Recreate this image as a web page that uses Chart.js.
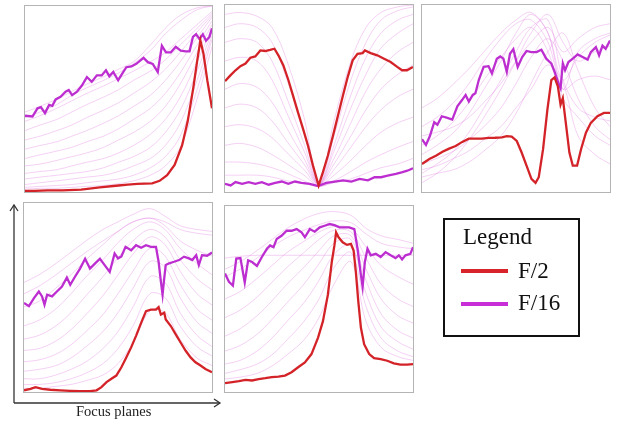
<!DOCTYPE html>
<html>
<head>
<meta charset="utf-8">
<script src="https://cdn.jsdelivr.net/npm/chart.js@4.4.1/dist/chart.umd.min.js"></script>
<style>
    body { margin: 0; background: #fff; width: 621px; height: 421px; position: relative; overflow: hidden; }
    .panel { position: absolute; box-sizing: border-box; border: 1px solid #b4b4b4; background: #fff; }
    .panel canvas { display: block; }
    .legend-box { position: absolute; left: 443px; top: 218px; width: 137px; height: 119px; box-sizing: border-box; border: 2.5px solid #111; font-family: "Liberation Serif", serif; color: #111; }
    .legend-box .title { position: absolute; left: 18px; top: 4px; font-size: 23px; }
    .legend-box .row { position: absolute; left: 16px; height: 4px; width: 47px; }
    .legend-box .lab { position: absolute; left: 73px; font-size: 23px; }
    .axis-label { position: absolute; left: 76px; top: 403px; font-family: "Liberation Serif", serif; font-size: 14.5px; color: #222; }
</style>
</head>
<body>
<div class="panel" id="p1" style="left:24px;top:5px;width:189px;height:188px"><canvas id="c1" width="187" height="186"></canvas></div>
<div class="panel" id="p2" style="left:224px;top:4px;width:190px;height:189px"><canvas id="c2" width="188" height="187"></canvas></div>
<div class="panel" id="p3" style="left:421px;top:4px;width:190px;height:189px"><canvas id="c3" width="188" height="187"></canvas></div>
<div class="panel" id="p4" style="left:23px;top:202px;width:190px;height:191px"><canvas id="c4" width="188" height="189"></canvas></div>
<div class="panel" id="p5" style="left:224px;top:205px;width:190px;height:188px"><canvas id="c5" width="188" height="186"></canvas></div>

<svg width="621" height="421" style="position:absolute;left:0;top:0" xmlns="http://www.w3.org/2000/svg">
    <g stroke="#333" stroke-width="1.3" fill="none">
        <line x1="14" y1="403" x2="14" y2="205"/>
        <polyline points="10,211 14,205 18,211"/>
        <line x1="14" y1="403" x2="220" y2="403"/>
        <polyline points="214,399 220,403 214,407"/>
    </g>
</svg>
<div class="axis-label">Focus planes</div>

<div class="legend-box">
    <div class="title">Legend</div>
    <div class="row" style="top:49px;background:#d8232a"></div>
    <div class="lab" style="top:38px">F/2</div>
    <div class="row" style="top:82px;background:#c82ed8"></div>
    <div class="lab" style="top:70px">F/16</div>
</div>

<script>
// x positions (percent of focus range) shared by the faint curves
const FAINT_X = [0, 8, 17, 25, 33, 42, 50, 58, 67, 75, 83, 92, 100];

// panel 1
const P1_F16_X = [0, 4, 6.7, 8.5, 10.7, 12.9, 14.6, 16.4, 19, 21.7, 23.4, 25.2, 27.8, 30.5, 33.1, 35.7, 38.4, 41, 43.3, 45.1, 47.2, 49.8, 52.5, 54.2, 56.9, 59.5, 63.4, 65.7, 68.3, 71, 73.2, 75.4, 78, 80.6, 83.3, 85.9, 88, 89.8, 91.5, 93.3, 95.1, 96.8, 98.6, 100];
const P1_F16_Y = [41, 40.6, 45, 45.6, 42.4, 46.8, 46.3, 49.8, 51.2, 53.9, 54.8, 52.1, 53.9, 57.4, 61.8, 59.2, 62.7, 62.7, 65.4, 62.2, 64.5, 60.1, 64.5, 67.1, 67.5, 68.9, 72.1, 69.8, 68.9, 64.5, 78.6, 75.1, 75.1, 78.1, 76, 75.6, 75.6, 83.4, 84.8, 82.2, 84.8, 81.3, 83.4, 88];
const P1_F2_X = [0, 5, 12, 20, 30, 40, 50, 55, 60, 68, 72, 76, 80, 84, 87, 90, 92, 93.8, 95.5, 97.5, 100];
const P1_F2_Y = [0.6, 0.6, 0.9, 0.9, 1.3, 2.5, 3.5, 4, 4.4, 4.6, 6, 9, 14.5, 25, 38, 56, 70, 81.5, 74, 60, 45];
const P1_FAINT = [
    [38, 41, 45, 49, 53, 57, 61, 65, 70, 75, 82, 90, 97],
    [33, 36, 39, 43, 47, 51, 55, 60, 65, 71, 79, 88, 96],
    [28, 30, 33, 36, 40, 44, 48, 53, 59, 66, 75, 86, 95],
    [23, 25, 27, 30, 33, 37, 41, 46, 52, 60, 70, 83, 94],
    [18, 20, 22, 24, 27, 30, 34, 39, 45, 53, 64, 79, 92],
    [14, 15, 17, 19, 21, 24, 28, 32, 38, 46, 58, 75, 90],
    [10, 11, 12, 14, 16, 18, 21, 25, 31, 39, 51, 70, 88],
    [7, 8, 9, 10, 11, 13, 16, 19, 24, 32, 44, 65, 86],
    [4, 5, 6, 7, 8, 9, 11, 14, 18, 25, 37, 60, 84],
    [2.5, 3, 3.5, 4, 5, 6, 7, 9, 13, 19, 30, 55, 82],
    [1.5, 2, 2, 2.5, 3, 3.5, 4.5, 6, 9, 14, 24, 50, 78],
    [43, 46, 50, 54, 58, 62, 66, 70, 79, 88, 95, 99, 100],
    [40, 43, 47, 52, 56, 60, 64, 69, 76, 85, 92, 98, 100]
];

// panel 2
const P2_F16_X = [0, 3, 5.6, 9.1, 12.6, 16.1, 19.6, 23.2, 26.7, 30.2, 33.7, 37.2, 40.7, 45.1, 49.5, 53.9, 58.4, 62.8, 67.2, 71.6, 76, 79.6, 83, 86.5, 90.9, 94.4, 97, 100];
const P2_F16_Y = [4.4, 3.5, 5.3, 4.4, 5.3, 4.4, 5.3, 3.9, 4.9, 5.6, 4.4, 5.6, 4.9, 4.4, 3.2, 4.9, 5.6, 6.2, 5.6, 7, 6.2, 7.9, 7.9, 8.8, 9.7, 10.6, 11.4, 12.7];
const P2_F2_X = [0, 3, 5.6, 8.2, 10.9, 13.5, 16.1, 18.8, 21.4, 24, 26.3, 28.4, 31, 33.7, 36.3, 38.9, 41.6, 44.2, 46.8, 49.8, 52.1, 54.7, 57.4, 60, 62.6, 65.3, 67.9, 70.5, 73.2, 74.4, 77.5, 81, 84.6, 88.1, 91.6, 94.2, 96.8, 100];
const P2_F2_Y = [59.3, 62.5, 65.1, 67.3, 68.7, 71.8, 72.5, 75.7, 75.4, 76, 76.6, 73.1, 67.8, 59.9, 51.1, 42.3, 33.5, 24.6, 14.1, 3.5, 10.6, 19.4, 29.9, 40.5, 51.1, 61.6, 70.4, 73.9, 74.3, 75.7, 74.3, 73.1, 71.3, 69.5, 66.9, 65.1, 65.1, 66.9];
const P2_FAINT = [
    [95, 96, 94, 88, 70, 40, 4, 38, 70, 88, 96, 99, 100],
    [88, 90, 88, 80, 60, 32, 4, 30, 60, 80, 92, 97, 99],
    [80, 82, 80, 70, 50, 26, 4, 25, 52, 72, 85, 92, 95],
    [70, 72, 70, 60, 42, 22, 4, 22, 45, 63, 77, 85, 90],
    [55, 58, 56, 48, 34, 18, 4, 18, 37, 54, 66, 75, 80],
    [45, 47, 45, 38, 27, 15, 4, 15, 30, 44, 55, 63, 68],
    [35, 36, 34, 29, 21, 12, 3.5, 12, 24, 35, 44, 51, 55],
    [25, 26, 24, 20, 15, 9, 3.5, 9, 17, 25, 32, 37, 40],
    [16, 16, 15, 13, 10, 6, 3, 6, 11, 16, 20, 24, 27],
    [9, 9, 9, 8, 6, 4.5, 3, 5, 7, 10, 13, 15, 18]
];

// panel 3
const P3_F16_X = [0, 2.1, 4.2, 6.5, 8.2, 10.5, 13.5, 16.1, 18.8, 21.4, 23.2, 24.9, 27, 28.4, 30.2, 32.8, 35.4, 37.2, 39.8, 41.6, 43.3, 45.1, 46.8, 48.6, 50.9, 53.3, 55.6, 58.2, 60.9, 63.5, 66.1, 68.8, 70.5, 72.6, 73.7, 74.9, 76.1, 77.9, 80.2, 82.8, 85.4, 88.1, 89.8, 92.5, 94.2, 96, 97.7, 100];
const P3_F16_Y = [28.2, 25.2, 29.9, 37.3, 36, 40.5, 39.6, 38.7, 45.8, 49.3, 51.9, 48.4, 51.9, 52.8, 59.9, 66.9, 67.3, 63.4, 71.3, 72.5, 71.3, 64.3, 73.9, 76.4, 66.9, 72.2, 75.4, 74.8, 74.8, 76.1, 71.3, 68.7, 64.3, 58.1, 55.5, 68.7, 65.1, 69.5, 71.3, 73.6, 72.2, 70.8, 74.8, 77.5, 73.1, 78.3, 76.6, 81];
const P3_F2_X = [0, 3.9, 7.4, 10.9, 14.4, 17.9, 21.4, 24.9, 28.4, 31.9, 35.4, 38.9, 42.5, 45.1, 47.7, 50.4, 53, 55.6, 58.2, 60.4, 62.1, 64.4, 66.7, 68.8, 70.5, 72.3, 73.7, 74.9, 76.7, 78.4, 80.2, 82.5, 84.6, 87.2, 89.8, 93.3, 96.8, 100];
const P3_F2_Y = [15, 17.6, 19.4, 21.5, 23.2, 24.6, 26.8, 28.5, 28.5, 28.5, 28.9, 29, 29.2, 29.9, 29.6, 27.3, 21.1, 14.1, 7, 4.9, 7.9, 22.9, 44, 59.9, 61.3, 56.3, 46.7, 50.2, 35.2, 21.1, 14.1, 14.1, 22.9, 31.7, 37, 40.5, 42.3, 42.3];
const P3_FAINT = [
    [10, 15, 22, 32, 45, 60, 75, 88, 92, 60, 45, 40, 38],
    [20, 25, 32, 42, 55, 70, 85, 95, 85, 55, 60, 62, 60],
    [5, 10, 18, 28, 40, 55, 70, 85, 95, 80, 70, 75, 78],
    [35, 40, 48, 58, 70, 82, 90, 92, 80, 55, 75, 82, 85],
    [25, 30, 38, 48, 60, 72, 82, 88, 75, 50, 40, 30, 25],
    [15, 18, 22, 28, 35, 45, 58, 72, 82, 70, 50, 35, 28],
    [45, 50, 58, 66, 75, 85, 92, 96, 85, 60, 72, 80, 84],
    [8, 10, 12, 16, 22, 30, 42, 58, 75, 85, 65, 45, 35],
    [30, 32, 35, 40, 48, 58, 70, 80, 88, 75, 82, 88, 90],
    [12, 14, 18, 22, 28, 35, 45, 55, 68, 58, 30, 20, 15]
];

// panel 4
const P4_F16_X = [0, 2.6, 5.3, 7.9, 9.6, 10.9, 12.3, 14.9, 17.5, 20.2, 22.8, 24.6, 27.2, 29.8, 32.5, 35.1, 37.7, 40.4, 43, 45.6, 48.2, 50, 51.8, 54, 57, 59.6, 62.3, 64.9, 67.5, 70.2, 71.6, 72.8, 73.7, 74.6, 75.4, 77.2, 79.8, 82.5, 85.1, 87.7, 89.5, 91.6, 93, 94.7, 97.4, 100];
const P4_F16_Y = [47.1, 45.4, 49.7, 53.2, 50.6, 46.2, 51.5, 50.6, 53.2, 55.8, 60.6, 56.7, 61.1, 65.3, 70.5, 65.3, 67.9, 70.5, 67, 63.5, 73.3, 70.7, 71.7, 76.8, 75, 77.7, 76.3, 77.7, 76.8, 76.8, 68.9, 58.5, 51.5, 60.2, 67.2, 68.1, 68.9, 69.8, 71.6, 70.7, 69.8, 72.4, 67.2, 72.4, 72.1, 73.8];
const P4_F2_X = [0, 3.5, 6.1, 9.6, 14, 19.3, 24.6, 29.8, 35.1, 38.6, 41.2, 43.9, 46.5, 49.1, 51.8, 54.4, 57, 59.6, 62.3, 64.9, 67.5, 70.2, 71.6, 72.8, 74.6, 75.4, 78.1, 80.7, 83.3, 86, 88.6, 91.2, 93.9, 96.5, 100];
const P4_F2_Y = [0.9, 1.7, 2.6, 1.7, 1.2, 0.9, 0.6, 0.4, 0.4, 0.9, 2.6, 5.2, 7, 8.7, 13.1, 18.3, 23.6, 29.7, 36.6, 42.8, 43.6, 43.6, 44.9, 41, 41.9, 38.4, 34.9, 30.5, 26.2, 21.8, 18.3, 15.7, 14, 12.2, 10.5];
const P4_FAINT = [
    [45, 48, 55, 62, 70, 78, 85, 90, 92, 88, 80, 75, 72],
    [35, 38, 44, 52, 61, 70, 79, 86, 90, 86, 76, 68, 62],
    [28, 30, 35, 42, 51, 61, 71, 80, 86, 82, 70, 60, 54],
    [22, 23, 27, 33, 41, 51, 62, 73, 82, 78, 64, 52, 46],
    [16, 17, 20, 25, 32, 41, 52, 64, 76, 72, 57, 44, 38],
    [11, 12, 14, 18, 24, 32, 42, 55, 69, 66, 50, 37, 31],
    [7, 7, 9, 12, 16, 23, 32, 45, 61, 58, 42, 30, 24],
    [4, 4, 5, 7, 10, 15, 23, 35, 52, 50, 35, 24, 19],
    [2, 2, 3, 4, 6, 9, 15, 26, 43, 42, 28, 18, 14],
    [52, 56, 62, 68, 74, 80, 85, 90, 92, 90, 86, 84, 83],
    [58, 62, 68, 74, 80, 86, 90, 94, 97, 93, 88, 86, 85]
];

// panel 5
const P5_F16_X = [0, 2.1, 4.2, 6, 8.2, 10.5, 12.3, 14.4, 17, 19.6, 22.3, 24, 25.8, 27.5, 30.2, 32.8, 35.4, 38.1, 40.7, 42.5, 45.1, 47.7, 50.4, 53, 55.6, 58.2, 60.9, 63.5, 66.1, 68.8, 70.5, 72.3, 73.2, 74.4, 75.8, 77.5, 80.2, 82.8, 85.4, 88.1, 90.7, 92.5, 94.2, 96, 98.6, 100];
const P5_F16_Y = [63.7, 59.3, 57.2, 71.7, 72, 58.9, 70.8, 69.9, 67.8, 72.6, 77, 78.8, 77.9, 82.3, 84.1, 86.7, 86.7, 87.6, 85.8, 83.2, 87.6, 86.2, 88.5, 89.4, 90.3, 89.7, 88.5, 88.5, 88.5, 87.6, 77, 62.8, 56.6, 69.9, 77, 73.5, 74.3, 72.6, 75.2, 73.5, 72, 73.5, 71.3, 73.5, 74.3, 77.9];
const P5_F2_X = [0, 3.9, 7.4, 10.9, 14.4, 17.9, 21.4, 24.9, 28.4, 31.9, 35.4, 38.9, 42.5, 46, 49.5, 52.1, 54.7, 56.8, 58.2, 59.1, 60.4, 62.6, 64.9, 67, 68.4, 69.6, 70.9, 72.3, 74, 76.7, 79.3, 82.8, 86.3, 89.8, 93.3, 96.8, 100];
const P5_F2_Y = [4.8, 5.3, 5.8, 6.5, 6.2, 6.9, 7.4, 8, 8.3, 8.8, 10.6, 13.3, 15.9, 20.4, 29.2, 38.1, 52.2, 69.9, 78.8, 85.8, 83.2, 80.5, 79.1, 79.6, 76.1, 64.6, 48.7, 34.5, 25.7, 20.4, 18.2, 17.7, 16.8, 15.4, 14.7, 14.7, 15];
const P5_FAINT = [
    [62, 66, 72, 78, 83, 87, 90, 92, 91, 85, 80, 78, 77],
    [50, 54, 61, 68, 75, 81, 86, 89, 88, 78, 68, 62, 58],
    [40, 44, 51, 59, 67, 75, 82, 87, 86, 72, 58, 50, 46],
    [30, 34, 41, 49, 58, 67, 76, 84, 84, 66, 50, 41, 37],
    [22, 25, 31, 39, 48, 58, 69, 80, 82, 60, 42, 33, 29],
    [15, 17, 22, 29, 38, 48, 60, 74, 79, 53, 35, 27, 23],
    [10, 12, 15, 20, 28, 38, 50, 67, 75, 46, 29, 22, 19],
    [7, 8, 10, 14, 20, 28, 40, 58, 70, 38, 24, 19, 17],
    [72, 73, 73.5, 73.5, 73.5, 73.5, 73.5, 73.5, 73.5, 73.5, 73.5, 73.5, 73.5],
    [66, 70, 76, 82, 88, 93, 96, 97, 95, 88, 84, 82, 80]
];

const F2_COLOR = '#d42328';
const F16_COLOR = '#bd2ed0';
const FAINT_COLOR = 'rgba(222, 120, 222, 0.34)';

function toPoints(xs, ys) {
    return xs.map((x, i) => ({ x: x, y: ys[i] }));
}

function drawPanel(canvasId, f16x, f16y, f2x, f2y, faint) {
    const ctx = document.getElementById(canvasId);
    const datasets = faint.map(ys => ({
        data: toPoints(FAINT_X, ys),
        borderColor: FAINT_COLOR,
        borderWidth: 1,
        tension: 0.35,
        order: 2
    }));
    datasets.push({
        label: 'F/16',
        data: toPoints(f16x, f16y),
        borderColor: F16_COLOR,
        borderWidth: 2.3,
        order: 1
    });
    datasets.push({
        label: 'F/2',
        data: toPoints(f2x, f2y),
        borderColor: F2_COLOR,
        borderWidth: 2.3,
        order: 0
    });

    return new Chart(ctx, {
        type: 'line',
        data: { datasets: datasets },
        options: {
            responsive: false,
            animation: false,
            events: [],
            layout: { padding: 0 },
            elements: { point: { radius: 0 } },
            plugins: {
                legend: { display: false },
                tooltip: { enabled: false }
            },
            scales: {
                x: { type: 'linear', min: 0, max: 100, display: false },
                y: { min: 0, max: 100, display: false }
            }
        }
    });
}

drawPanel('c1', P1_F16_X, P1_F16_Y, P1_F2_X, P1_F2_Y, P1_FAINT);
drawPanel('c2', P2_F16_X, P2_F16_Y, P2_F2_X, P2_F2_Y, P2_FAINT);
drawPanel('c3', P3_F16_X, P3_F16_Y, P3_F2_X, P3_F2_Y, P3_FAINT);
drawPanel('c4', P4_F16_X, P4_F16_Y, P4_F2_X, P4_F2_Y, P4_FAINT);
drawPanel('c5', P5_F16_X, P5_F16_Y, P5_F2_X, P5_F2_Y, P5_FAINT);
</script>
</body>
</html>
